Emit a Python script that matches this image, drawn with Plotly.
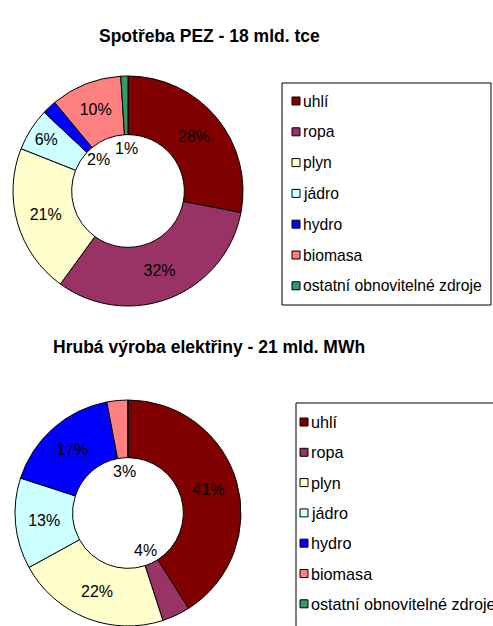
import numpy as np
import plotly.graph_objects as go

# ---- data ----
categories = ["uhlí", "ropa", "plyn", "jádro", "hydro", "biomasa", "ostatní obnovitelné zdroje"]
colors = ["#800000", "#993366", "#FFFFCC", "#CCFFFF", "#0000FF", "#FF8080", "#339966"]
pez_values = [28, 32, 21, 6, 2, 10, 1]          # Spotřeba PEZ - 18 mld. tce
elec_values = [41, 4, 22, 13, 17, 3, 0]         # Hrubá výroba elektřiny - 21 mld. MWh
titles = ["Spotřeba PEZ - 18 mld. tce", "Hrubá výroba elektřiny - 21 mld. MWh"]

W, H = 493, 626
FONT = "Liberation Sans, Arial, sans-serif"
HOLE = 0.49
SMALL = 5  # slices below this get their label placed in the hole

fig = go.Figure()
shapes = []
annotations = []


def px(x):
    return x / W


def py(y):
    return 1 - y / H


def add_donut(values, ydom_px, xdom_px):
    x0, x1 = xdom_px
    y0, y1 = ydom_px  # pixel, top-down
    cx = (x0 + x1) / 2
    cy = (y0 + y1) / 2
    R = min(x1 - x0, y1 - y0) / 2
    txt = [f"{v}%" if v >= SMALL else "" for v in values]
    fig.add_trace(go.Pie(
        labels=categories, values=values, text=txt, textinfo="text",
        marker=dict(colors=colors, line=dict(color="black", width=1)),
        hole=HOLE, sort=False, direction="clockwise", rotation=0,
        textposition="inside", insidetextorientation="horizontal",
        textfont=dict(family=FONT, size=16, color="black"),
        domain=dict(x=[px(x0), px(x1)], y=[max(0, py(y1)), min(1, py(y0))]),
        showlegend=False, hoverinfo="label+percent",
    ))
    total = float(sum(values))
    cum = np.cumsum([0] + list(values))
    rl = 0.37 * R
    for i, v in enumerate(values):
        if 0 < v < SMALL:
            th = 2 * np.pi * (cum[i] + v / 2) / total
            ax = cx + rl * np.sin(th)
            ay = cy - rl * np.cos(th)
            annotations.append(dict(x=px(ax), y=py(ay), xref="paper", yref="paper",
                                    xanchor="center", yanchor="middle",
                                    text=f"{v}%", showarrow=False,
                                    font=dict(family=FONT, size=16, color="black")))


def add_legend(box, marker_x, text_x, y_first, step, fsize):
    bx0, by0, bx1, by1 = box
    shapes.append(dict(type="rect", xref="paper", yref="paper",
                       x0=px(bx0), x1=px(bx1), y0=py(by1), y1=py(by0),
                       line=dict(color="black", width=1), fillcolor="rgba(0,0,0,0)"))
    for i, (c, lab) in enumerate(zip(colors, categories)):
        yc = y_first + i * step
        shapes.append(dict(type="rect", xref="paper", yref="paper",
                           x0=px(marker_x), x1=px(marker_x + 8),
                           y0=py(yc + 4), y1=py(yc - 4),
                           line=dict(color="black", width=1), fillcolor=c))
        annotations.append(dict(x=px(text_x), y=py(yc), xref="paper", yref="paper",
                                xanchor="left", yanchor="middle", text=lab,
                                showarrow=False,
                                font=dict(family=FONT, size=fsize, color="black")))


# top chart
add_donut(pez_values, (76, 306), (13, 243))
add_legend((282, 83, 491, 305), 292, 300.5, 101, 30.8, 15.7)
annotations.append(dict(x=px(209), y=py(24), xref="paper", yref="paper", text=f"<b>{titles[0]}</b>",
                        showarrow=False, font=dict(family=FONT, size=17.5, color="black")))

# bottom chart
add_donut(elec_values, (400, 626), (13, 243))
add_legend((296, 403, 540, 660), 300, 308.5, 422, 30.3, 16.2)
annotations.append(dict(x=px(209), y=py(347), xref="paper", yref="paper", text=f"<b>{titles[1]}</b>",
                        showarrow=False, font=dict(family=FONT, size=17.5, color="black")))

fig.update_layout(
    width=W, height=H, margin=dict(l=0, r=0, t=0, b=0),
    paper_bgcolor="white", plot_bgcolor="white",
    shapes=shapes, annotations=annotations,
    font=dict(family=FONT, color="black"),
)

fig.write_html("out.html", config={"displayModeBar": False},
               post_script="document.body.style.margin='0';document.body.style.overflow='hidden';")
